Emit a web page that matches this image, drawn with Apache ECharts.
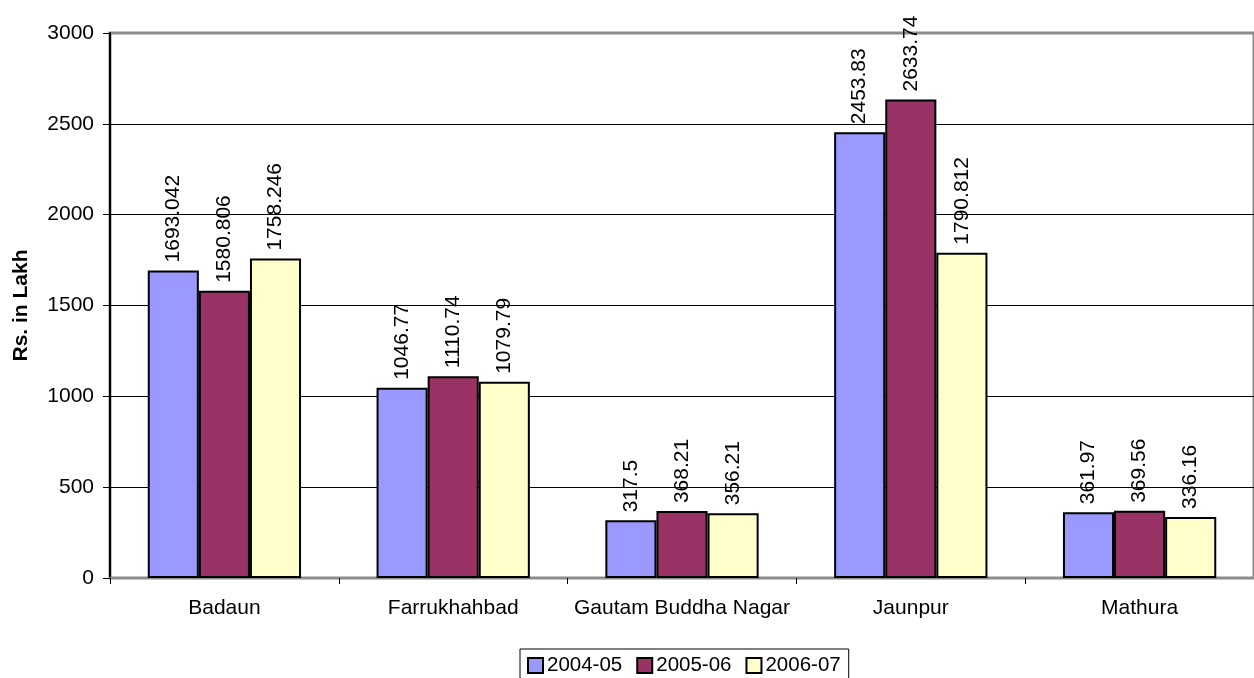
<!DOCTYPE html>
<html>
<head>
<meta charset="utf-8">
<title>Rs. in Lakh by district</title>
<script src="https://cdn.jsdelivr.net/npm/echarts@6/dist/echarts.min.js"></script>
<style>
  html, body { margin: 0; padding: 0; background: #fff; }
  #chart { width: 1254px; height: 678px; }
</style>
</head>
<body>
<div id="chart"></div>
<script>
// Districts along the category axis
const districts = ['Badaun', 'Farrukhahbad', 'Gautam Buddha Nagar', 'Jaunpur', 'Mathura'];

// Yearly amounts, Rs. in Lakh
const y2004_05 = [1693.042, 1046.77, 317.5, 2453.83, 361.97];
const y2005_06 = [1580.806, 1110.74, 368.21, 2633.74, 369.56];
const y2006_07 = [1758.246, 1079.79, 356.21, 1790.812, 336.16];

const yearNames = ['2004-05', '2005-06', '2006-07'];
const yearColors = ['#9999FF', '#993366', '#FFFFCC'];
const yearValues = [y2004_05, y2005_06, y2006_07];

const FONT = 'Liberation Sans, Arial, sans-serif';

const chart = echarts.init(document.getElementById('chart'), null, { renderer: 'canvas' });

const series = yearNames.map((name, i) => ({
  name: name,
  type: 'bar',
  data: yearValues[i],
  barGap: '0%',
  barCategoryGap: '33%',
  itemStyle: { color: yearColors[i], borderColor: '#000', borderWidth: 2 },
  label: {
    show: true,
    position: 'top',
    rotate: 90,
    align: 'left',
    verticalAlign: 'middle',
    distance: 8,
    color: '#000',
    fontFamily: FONT,
    fontSize: 21,
    formatter: p => String(p.value)
  },
  emphasis: { disabled: true }
}));

chart.setOption({
  animation: false,
  backgroundColor: '#fff',
  textStyle: { fontFamily: FONT, color: '#000' },
  grid: {
    left: 110, right: -3, top: 33, bottom: 100,
    show: true, borderColor: '#8c8c8c', borderWidth: 3, backgroundColor: 'transparent'
  },
  legend: {
    data: yearNames,
    left: 520, top: 649,
    padding: [6, 8, 6, 7],
    borderColor: '#000', borderWidth: 1,
    itemWidth: 15, itemHeight: 15, itemGap: 14,
    icon: 'rect',
    itemStyle: { borderColor: '#000', borderWidth: 2 },
    textStyle: { fontFamily: FONT, fontSize: 20.5, color: '#000', padding: [0, 0, 0, -1] }
  },
  xAxis: {
    type: 'category',
    data: districts,
    axisLine: { lineStyle: { color: '#8c8c8c', width: 2 } },
    axisTick: { show: true, length: 6, lineStyle: { color: '#000', width: 1 } },
    axisLabel: { interval: 0, margin: 20, color: '#000', fontFamily: FONT, fontSize: 21 },
    splitLine: { show: false }
  },
  yAxis: {
    type: 'value',
    min: 0, max: 3000, interval: 500,
    name: 'Rs. in Lakh',
    nameLocation: 'middle',
    nameGap: 78,
    nameRotate: 90,
    nameTextStyle: { fontFamily: FONT, fontSize: 21, fontWeight: 'bold', color: '#000' },
    axisLine: { show: true, lineStyle: { color: '#000', width: 2 } },
    axisTick: { show: true, length: 7, lineStyle: { color: '#000', width: 1 } },
    axisLabel: { margin: 16, color: '#000', fontFamily: FONT, fontSize: 21, formatter: v => String(v) },
    splitLine: {
      show: true,
      lineStyle: {
        // the top line (3000) sits on the grey plot-area border
        color: ['#000', '#000', '#000', '#000', '#000', '#000', '#8c8c8c'],
        width: 1
      }
    }
  },
  series: series
});
</script>
</body>
</html>
